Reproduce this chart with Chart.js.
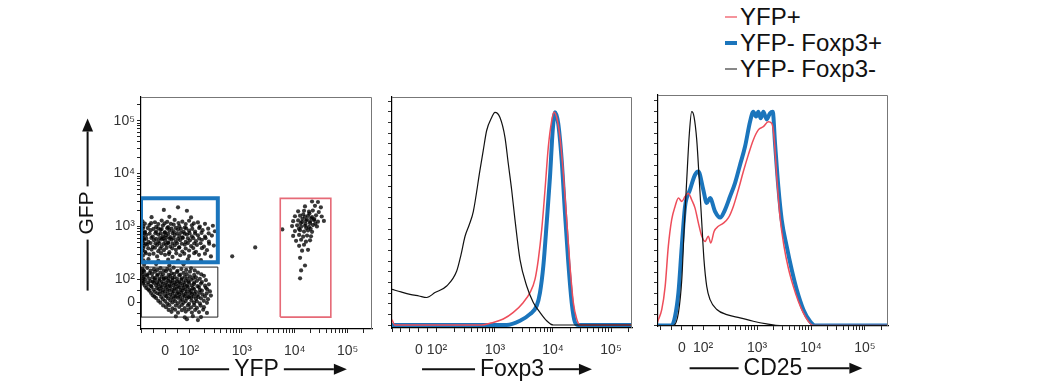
<!DOCTYPE html>
<html><head><meta charset="utf-8">
<script src="https://cdn.jsdelivr.net/npm/chart.js@4.4.1/dist/chart.umd.min.js"></script>
<style>
html,body{margin:0;padding:0;background:#fff;width:1039px;height:390px;overflow:hidden;}
canvas{position:absolute;}
#legend{position:absolute;left:725px;top:4px;font-family:"Liberation Sans",Arial,sans-serif;font-size:24px;color:#111;}
.li{display:flex;align-items:center;height:26px;white-space:nowrap;}
.sw{width:12px;margin-right:3px;}
</style></head><body>
<canvas id="c1" width="350" height="305" style="left:30px;top:85px"></canvas>
<canvas id="c2" width="260" height="305" style="left:380px;top:85px"></canvas>
<canvas id="c3" width="254" height="307" style="left:646px;top:83px"></canvas>
<div id="legend"></div>
<script>
// ---------- tick values / labels ----------
const majorTickValues = [0, 100, 1000, 10000, 100000];
const tickLabels = ['0', '10²', '10³', '10⁴', '10⁵'];
const minorTickValues = [-150, -100, -50, 50, 200, 300, 400, 500, 600, 700, 800, 900,
  2000, 3000, 4000, 5000, 6000, 7000, 8000, 9000,
  20000, 30000, 40000, 50000, 60000, 70000, 80000, 90000, 200000];
const histYTicks = [0, 5, 10, 15, 20, 25, 30, 35, 40, 45, 50, 55, 60, 65, 70, 75, 80, 85, 90, 95, 100, 105];

// ---------- series ----------
const seriesNames = ['YFP+', 'YFP- Foxp3+', 'YFP- Foxp3-'];
const seriesColors = ['#ee4d5a', '#1b75bc', '#111111'];
const seriesWidths = [1.5, 4, 1.2];

// ---------- panel 1: GFP vs YFP dot plot (YFP value, GFP value) ----------
const cellsYfpNegGfpPos = [
[54,2300],[-5,2050],[91,1980],
[-56,1500],[18,1520],[109,1480],
[-94,1250],[-42,1200],[-14,1290],[9,1220],[40,1330],[72,1230],[100,1280],[147,1190],
[-84,1130],[-58,1150],[-28,1110],[-2,1140],[24,1120],[56,1160],[86,1110],[123,1140],[200,1120],
[-90,1000],[-65,1060],[-37,980],[-9,1040],[13,970],[36,1080],[59,1010],[82,950],[113,1050],[160,990],[282,1030],
[-92,910],[-72,930],[-48,900],[-28,920],[-14,890],[9,925],[27,905],[45,935],[66,895],[88,915],[115,900],[155,930],[230,905],
[-98,820],[-83,790],[-60,850],[-37,800],[-19,860],[0,780],[18,840],[36,810],[54,870],[77,790],[100,830],[130,800],[180,850],[308,810],
[-96,740],[-85,755],[-64,730],[-40,745],[-18,735],[-2,760],[13,725],[31,750],[50,740],[66,760],[82,730],[102,745],[130,735],[172,755],[235,740],
[-92,660],[-78,690],[-51,640],[-28,700],[-9,650],[4,680],[22,630],[40,690],[59,660],[72,620],[91,700],[113,650],[147,680],[200,640],[270,670],
[-90,600],[-78,590],[-57,605],[-37,585],[-21,600],[-7,595],[6,610],[20,590],[36,600],[54,585],[74,605],[95,595],[120,600],[155,590],[205,600],
[-94,530],[-87,560],[-69,510],[-46,550],[-28,520],[-14,570],[0,540],[13,500],[27,560],[45,520],[63,550],[86,510],[104,545],[135,525],[175,560],[237,515],
[-91,480],[-80,470],[-60,485],[-40,475],[-23,480],[-5,470],[13,485],[31,475],[50,480],[70,470],[95,485],[125,475],[165,480],[240,470],
[-88,430],[-74,450],[-51,410],[-33,445],[-14,420],[4,455],[22,415],[40,440],[59,405],[82,450],[109,425],[141,445],[191,415],[294,435],
[-90,390],[-70,385],[-42,395],[-20,380],[6,392],[30,385],[58,395],[86,382],[120,390],[175,388],
[-94,350],[-83,330],[-56,365],[-28,340],[-5,355],[18,325],[45,360],[72,335],[100,350],[135,330],[218,355],
[-80,310],[-48,305],[-16,312],[16,300],[47,310],[80,305],[125,312],[200,305],
[-92,280],[-65,295],[-33,270],[0,290],[31,265],[63,285],[100,275],[154,290],[259,270],
[-90,228],[-69,240],[-28,222],[13,235],[54,225],[95,238],[168,230]
];
const cellsYfpNegGfpNeg = [
[-87,188],[-37,194],[18,184],[77,192],
[-94,158],[-74,164],[-46,155],[-19,162],[9,157],[36,166],[68,156],[109,161],
[-90,148],[-60,146],[-32,150],[-5,147],[22,149],[52,145],[88,150],[128,147],
[-98,134],[-87,140],[-65,131],[-42,138],[-19,133],[4,141],[27,130],[50,137],[77,132],[104,139],[147,134],
[-92,124],[-76,122],[-54,126],[-30,123],[-8,125],[15,121],[38,126],[63,122],[90,125],[125,121],[170,124],
[-88,111],[-74,116],[-51,109],[-33,117],[-14,112],[4,108],[22,115],[40,110],[59,118],[82,111],[104,114],[135,109],[191,116],
[-91,104],[-66,103],[-42,105],[-24,102],[-5,104],[13,103],[31,105],[50,102],[70,104],[93,103],[120,105],[160,102],
[-94,94],[-83,99],[-60,92],[-42,98],[-23,95],[-5,100],[13,93],[31,97],[50,91],[68,99],[86,94],[109,98],[141,93],[208,96],
[-88,88],[-72,87],[-51,89],[-33,86],[-14,88],[4,87],[22,89],[40,86],[59,88],[77,87],[97,89],[125,86],[175,88],
[-92,82],[-69,77],[-46,84],[-28,79],[-9,81],[9,76],[27,83],[45,78],[63,82],[82,77],[100,84],[124,79],[168,81],[237,78],
[-84,72],[-58,71],[-37,73],[-19,70],[0,72],[18,71],[36,73],[54,70],[72,72],[91,71],[112,73],[145,70],[200,72],
[-78,62],[-56,67],[-33,61],[-14,66],[4,63],[22,68],[40,60],[59,65],[77,62],[95,67],[118,61],[154,66],[208,63],
[-70,56],[-48,55],[-26,57],[-8,54],[11,56],[29,55],[47,57],[65,54],[84,56],[102,55],[125,57],[160,54],[220,56],
[-65,50],[-42,45],[-19,49],[0,46],[18,51],[36,47],[54,44],[72,50],[91,46],[109,49],[135,45],[175,50],[248,47],
[-58,40],[-32,39],[-10,41],[11,38],[31,40],[50,39],[68,41],[86,38],[104,40],[125,39],[158,41],[215,38],
[-51,30],[-23,35],[0,29],[22,33],[40,28],[59,34],[77,31],[95,27],[113,35],[141,30],[180,33],[259,29],
[-44,24],[-16,23],[6,25],[27,22],[45,24],[63,23],[81,25],[100,22],[122,24],[150,23],[200,25],
[-37,18],[-9,13],[13,17],[36,14],[54,19],[72,12],[91,16],[109,20],[135,14],[168,17],[228,13],
[-28,6],[0,5],[22,7],[43,4],[64,6],[86,5],[111,7],[140,4],[190,6],
[-19,-2],[9,-6],[31,-1],[54,-5],[77,-3],[100,-7],[124,-2],[160,-5],[218,-3],
[-8,-14],[18,-13],[45,-15],[70,-12],[95,-14],[125,-13],[165,-15],
[4,-22],[31,-27],[59,-21],[82,-26],[109,-23],[141,-25],[191,-22],
[15,-34],[42,-33],[70,-35],[98,-32],[130,-34],[185,-33],
[27,-42],[54,-46],[86,-41],[113,-45],[154,-43],[218,-47],
[45,-62],[82,-66],[118,-61],[168,-65],
[91,-74],[147,-78]
];
const cellsYfpPos = [
[21260,2965],[27480,2900],
[15630,2390],[24140,2450],[31240,2300],
[11590,1930],[15000,1980],[18600,1900],[22000,2000],[28500,1870],
[14500,1700],[19000,1750],
[10100,1557],[12620,1600],[15630,1520],[17840,1580],[21260,1500],[25300,1620],[32400,1540],
[14000,1400],[17000,1350],[20500,1420],[23500,1380],
[9330,1256],[11590,1300],[13770,1220],[16300,1280],[19480,1240],[23200,1310],[27480,1230],[35640,1270],
[13000,1150],[16000,1120],[19500,1150],[24500,1130],
[8900,1014],[11100,1050],[13200,990],[15630,1030],[18600,980],[22100,1060],[26300,1000],
[12000,900],[16500,930],[20000,900],
[10100,818],[12620,850],[15000,800],[17840,840],[21260,790],
[9330,660],[12100,690],[14400,640],[17100,670],[20300,650],
[10600,533],[13200,560],[16300,515],[19480,545],
[12100,430],[15000,450],
[13770,347],[17840,360],
[12620,255],[15630,182],[13200,147],[12620,104]
];
const cellsOther = [[655,272],[1786,400],[5820,877]];

// gates (YFP, GFP corners)
const gateYfpNegGfpPos = [[-100,210],[350,210],[350,3400],[-100,3400],[-100,210]];
const gateYfpNegGfpNeg = [[-100,-65],[350,-65],[350,170],[-100,170],[-100,-65]];
const gateYfpPos = [[5320,-65],[48200,-65],[48200,3400],[5320,3400],[5320,-65]];

// ---------- panel 2: Foxp3 histograms (value, % of max) ----------
const foxp3YfpPos = [[-150,2.5],[-135,0],[600,0],[820,0.8],[1390,2.8],[2070,5.9],[3080,10.6],[4010,15.2],[4890,21.4],[5580,30.7],[6390,44.7],[7280,63.3],[8300,83.4],[9500,95.8],[10400,99.7],[11580,97.3],[13200,88],[15070,71],[17230,49.3],[19630,27.6],[22390,10.6],[25630,2.8],[29230,0],[230000,0]];
const foxp3YfpNegFoxp3Pos = [[-150,0],[1590,0],[2700,2],[4010,5.1],[5240,9],[5970,15.2],[6810,27.6],[7780,47.8],[8870,69.4],[9880,91.2],[10820,99.7],[12330,94.3],[14120,77.2],[16100,52.4],[18370,29.2],[21000,10.6],[23930,1.3],[27300,0],[230000,0]];
const foxp3YfpNegFoxp3Neg = [[-150,16.7],[-100,15.5],[-50,14.4],[0,13.6],[43,12.9],[89,15.2],[147,18.3],[219,25.3],[260,33],[304,41.5],[360,47],[423,53.2],[551,72.6],[628,81.9],[719,91.2],[877,97.3],[1000,99.7],[1219,97.3],[1487,88],[1695,75.7],[1940,63.3],[2213,49.3],[2699,30.7],[3520,18.3],[4575,10.6],[5970,5.9],[7780,2],[10120,0],[230000,0]];

// ---------- panel 3: CD25 histograms (value, % of max) ----------
const cd25YfpPos = [[-125,0],[-120,1],[-112,2.8],[-96,7.5],[-80,18.3],[-65,37],[-49,49.5],[-33,55.7],[-17,59.6],[-1,58],[14.5,60.3],[30,61.9],[46,58.8],[62,54.9],[78,47.9],[94,41.7],[109,39.3],[125,41.7],[139,38.6],[160,44],[192,46.4],[238,47.9],[294,50.3],[364,55.7],[451,63.5],[558,72],[690,79.8],[853,86.8],[1057,91.5],[1310,93],[1618,95.3],[1871,94.6],[2065,88.3],[2317,69.7],[2670,50.5],[3162,37],[3800,26.9],[4700,18.3],[5820,11.3],[7200,5.9],[8910,2],[11040,0],[267000,0]];
const cd25YfpNegFoxp3Pos = [[-125,0],[-49,0],[-33,4.3],[-17,15.3],[-1,37],[14.5,55.7],[38,63.5],[62,70.5],[78,72],[101,63.5],[117,57.3],[135,59.6],[167,53.3],[207,50.5],[255,54.1],[316,60.3],[391,66.6],[484,75.1],[600,83.7],[742,95.3],[853,100],[957,97.7],[1057,100],[1172,96.9],[1310,100],[1510,96.4],[1742,99.3],[1954,100],[2154,85.3],[2479,65],[2864,49.5],[3548,37],[4393,26.1],[5436,16.8],[7200,7.5],[9580,2],[11850,0],[267000,0]];
const cd25YfpNegFoxp3Neg = [[-125,0],[-41,0],[-17,5.9],[-1,21.5],[10,44.8],[22.5,68.1],[35,89.9],[46,100],[57,97.7],[70,86.8],[82,68.1],[94,47.9],[104,30.8],[117,18.3],[135,12.1],[180,7.5],[275,5.1],[484,3.6],[853,2],[1510,0.8],[2670,0],[267000,0]];

// ---------- biexponential-like display scale ----------
class BiexScale extends Chart.Scale {
  determineDataLimits() { this.min = this.options.min; this.max = this.options.max; }
  buildTicks() {
    return majorTickValues.concat(minorTickValues)
      .filter(v => v >= this.min && v <= this.max)
      .sort((a, b) => a - b)
      .map(v => ({ value: v, major: majorTickValues.includes(v) }));
  }
  tf(v) { const L = this.options.linDecades; return v >= 100 ? Math.log10(v) : 2 - L * (1 - v / 100); }
  configure() { super.configure(); this._fa = this.tf(this.min); this._fb = this.tf(this.max); }
  getPixelForValue(v) { return this.getPixelForDecimal((this.tf(v) - this._fa) / (this._fb - this._fa)); }
  getPixelForTick(i) { return this.getPixelForValue(this.ticks[i].value); }
  getValueForPixel(p) {
    const f = this._fa + this.getDecimalForPixel(p) * (this._fb - this._fa);
    const L = this.options.linDecades;
    return f >= 2 ? Math.pow(10, f) : 100 * (1 - (2 - f) / L);
  }
  getLabelForValue(v) { return String(v); }
}
BiexScale.id = 'biex';
BiexScale.defaults = {};
Chart.register(BiexScale);

const FONT = '"Liberation Sans", Arial, Helvetica, sans-serif';
const pairs = a => a.map(p => ({ x: p[0], y: p[1] }));
const majorLabel = v => { const i = majorTickValues.indexOf(v); return i >= 0 ? tickLabels[i] : ''; };

function decor(arrows) {
  return {
    id: 'decor',
    afterDraw(chart) {
      const ctx = chart.ctx, a = chart.chartArea;
      ctx.save();
      ctx.strokeStyle = '#777'; ctx.lineWidth = 1;
      ctx.beginPath(); ctx.moveTo(a.left, a.top + 0.5); ctx.lineTo(a.right - 0.5, a.top + 0.5); ctx.lineTo(a.right - 0.5, a.bottom); ctx.stroke();
      ctx.strokeStyle = '#111'; ctx.fillStyle = '#111'; ctx.lineWidth = 2;
      for (const id in arrows) {
        const s = chart.scales[id], t = s.options.title, cfg = arrows[id];
        const font = Chart.helpers.toFont(t.font), pad = Chart.helpers.toPadding(t.padding);
        ctx.font = font.string;
        const w = ctx.measureText(t.text).width, g = 5, head = 13, hw = 5.5;
        if (s.isHorizontal()) {
          const cy = s.bottom - font.lineHeight / 2 - pad.bottom + (cfg.dy || 0);
          const cx = (s.left + s.right) / 2;
          const l0 = cx - w / 2 - g;
          ctx.beginPath(); ctx.moveTo(l0 - cfg.before, cy); ctx.lineTo(l0, cy); ctx.stroke();
          const r0 = cx + w / 2 + g, tip = r0 + cfg.after;
          ctx.beginPath(); ctx.moveTo(r0, cy); ctx.lineTo(tip - head, cy); ctx.stroke();
          ctx.beginPath(); ctx.moveTo(tip, cy); ctx.lineTo(tip - head, cy - hw); ctx.lineTo(tip - head, cy + hw); ctx.closePath(); ctx.fill();
        } else {
          const cx = s.left + font.lineHeight / 2 + pad.top + (cfg.dx || 0);
          const cy = (s.top + s.bottom) / 2;
          const b0 = cy + w / 2 + g;
          ctx.beginPath(); ctx.moveTo(cx, b0); ctx.lineTo(cx, b0 + cfg.before); ctx.stroke();
          const t0 = cy - w / 2 - g, tip = t0 - cfg.after;
          ctx.beginPath(); ctx.moveTo(cx, t0); ctx.lineTo(cx, tip + head); ctx.stroke();
          ctx.beginPath(); ctx.moveTo(cx, tip); ctx.lineTo(cx - hw, tip + head); ctx.lineTo(cx + hw, tip + head); ctx.closePath(); ctx.fill();
        }
      }
      ctx.restore();
    }
  };
}

function biexAxis(min, max, L, title, pos, fitSize, titlePad) {
  return {
    type: 'biex', position: pos, min: min, max: max, linDecades: L,
    border: { display: true, color: '#000', width: 1.2 },
    grid: { display: true, drawOnChartArea: false, drawTicks: true, tickLength: 4, tickColor: '#222', tickWidth: 1 },
    ticks: { autoSkip: false, maxRotation: 0, minRotation: 0, padding: pos === 'left' ? 2 : 10, color: '#333',
             font: { family: FONT, size: 14 }, callback: majorLabel },
    title: { display: true, text: title, color: '#111', font: { family: FONT, size: pos === 'left' ? 21 : 23 }, padding: titlePad },
    afterFit: s => { if (pos === 'left') s.width = fitSize; else s.height = fitSize; }
  };
}
function histYAxis(min, max) {
  return {
    type: 'linear', position: 'left', min: min, max: max,
    border: { display: true, color: '#000', width: 1.2 },
    grid: { display: true, drawOnChartArea: false, drawTicks: true, tickLength: 4, tickColor: '#333' },
    ticks: { autoSkip: false, padding: 0, callback: () => '' },
    afterBuildTicks: s => { s.ticks = histYTicks.map(v => ({ value: v })); },
    afterFit: s => { s.width = 12; }
  };
}
const baseOpts = { responsive: false, animation: false, events: [],
  plugins: { legend: { display: false }, tooltip: { enabled: false } } };

// ---------- chart 1 ----------
new Chart(document.getElementById('c1'), {
  type: 'scatter',
  data: { datasets: [
    { label: 'YFP- GFP+ gate', data: pairs(gateYfpNegGfpPos), showLine: true, borderColor: '#1b75bc', borderWidth: 4, pointRadius: 0, order: 0 },
    { label: 'YFP+ gate', data: pairs(gateYfpPos), showLine: true, borderColor: '#e66a77', borderWidth: 1.6, pointRadius: 0, order: 1 },
    { label: 'YFP- GFP- gate', data: pairs(gateYfpNegGfpNeg), showLine: true, borderColor: '#222', borderWidth: 1, pointRadius: 0, order: 2 },
    { label: 'cells', data: pairs(cellsYfpNegGfpPos.concat(cellsYfpNegGfpNeg, cellsYfpPos, cellsOther)),
      pointRadius: 2.1, pointBorderWidth: 0, backgroundColor: 'rgba(0,0,0,0.78)', order: 5 }
  ]},
  options: Object.assign({}, baseOpts, {
    layout: { padding: { top: 12, right: 8, left: 0, bottom: 0 } },
    scales: {
      x: biexAxis(-100, 290000, 0.455, 'YFP', 'bottom', 61, { top: 0, bottom: 7 }),
      y: biexAxis(-117, 282000, 0.434, 'GFP', 'left', 111, { top: 45, bottom: 0 })
    }
  }),
  plugins: [decor({ x: { before: 51, after: 63 }, y: { before: 51, after: 68 } })]
});

function histDatasets(arrs) {
  const order = [1, 2, 0];
  return arrs.map((a, i) => ({
    label: seriesNames[i], data: pairs(a), borderColor: seriesColors[i], borderWidth: seriesWidths[i],
    pointRadius: 0, fill: false, tension: 0, cubicInterpolationMode: 'monotone', order: order[i]
  }));
}

// ---------- chart 2 ----------
new Chart(document.getElementById('c2'), {
  type: 'line',
  data: { datasets: histDatasets([foxp3YfpPos, foxp3YfpNegFoxp3Pos, foxp3YfpNegFoxp3Neg]) },
  options: Object.assign({}, baseOpts, {
    layout: { padding: { top: 12, right: 8, left: 0, bottom: 0 } },
    scales: {
      x: biexAxis(-150, 230000, 0.31, 'Foxp3', 'bottom', 62, { top: 0, bottom: 7 }),
      y: histYAxis(-1.4, 106.9)
    }
  }),
  plugins: [decor({ x: { before: 53, after: 43 } })]
});

// ---------- chart 3 ----------
new Chart(document.getElementById('c3'), {
  type: 'line',
  data: { datasets: histDatasets([cd25YfpPos, cd25YfpNegFoxp3Pos, cd25YfpNegFoxp3Neg]) },
  options: Object.assign({}, baseOpts, {
    layout: { padding: { top: 12, right: 12, left: 0, bottom: 0 } },
    scales: {
      x: biexAxis(-114, 267000, 0.39, 'CD25', 'bottom', 64, { top: 0, bottom: 8 }),
      y: histYAxis(-0.23, 107.8)
    }
  }),
  plugins: [decor({ x: { before: 49, after: 55 } })]
});

// ---------- legend (HTML, from series arrays) ----------
const lg = document.getElementById('legend');
seriesNames.forEach((name, i) => {
  const row = document.createElement('div'); row.className = 'li';
  const sw = document.createElement('span'); sw.className = 'sw';
  sw.style.height = (i === 1 ? 4 : 2) + 'px';
  sw.style.background = i === 2 ? '#888' : seriesColors[i];
  if (i === 0) sw.style.opacity = '0.6';
  const tx = document.createElement('span'); tx.textContent = name;
  row.appendChild(sw); row.appendChild(tx); lg.appendChild(row);
});
</script>
</body></html>
